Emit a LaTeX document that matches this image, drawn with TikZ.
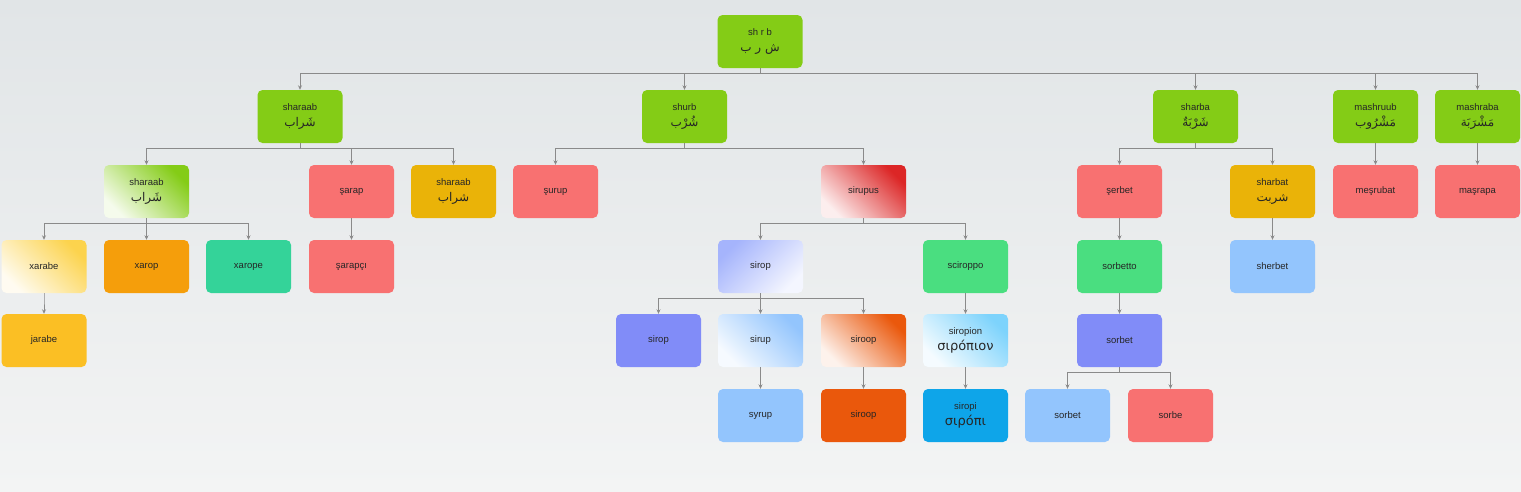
\documentclass[tikz,border=0pt]{standalone}
\usepackage{fontspec}
\setmainfont{Liberation Sans}
\newfontfamily\arabicfont[Script=Arabic]{DejaVu Sans}
\newfontfamily\greekfont{DejaVu Sans}
\TeXXeTstate=1
\usetikzlibrary{arrows.meta}
\definecolor{cLime}{HTML}{84CC16}
\definecolor{cRed}{HTML}{F87171}
\definecolor{cGold}{HTML}{EAB308}
\definecolor{cAmber}{HTML}{F59E0B}
\definecolor{cAmberL}{HTML}{FBBF24}
\definecolor{cEmerald}{HTML}{34D399}
\definecolor{cIndigo}{HTML}{818CF8}
\definecolor{cSky}{HTML}{93C5FD}
\definecolor{cOrange}{HTML}{EA580C}
\definecolor{cGreen}{HTML}{4ADE80}
\definecolor{cBlue}{HTML}{0EA5E9}
\definecolor{gRed}{HTML}{DC2626}
\definecolor{gYellow}{HTML}{FCD34D}
\definecolor{gIndigo}{HTML}{A5B4FC}
\definecolor{gSkyL}{HTML}{7DD3FC}
\definecolor{bgTop}{HTML}{E1E5E7}
\definecolor{bgBot}{HTML}{F3F4F4}
\definecolor{edgeGray}{HTML}{8A8A8A}
\newcommand\arab[1]{{\arabicfont\fontsize{12}{14}\selectfont\beginR#1\endR}}
\newcommand\grk[1]{{\greekfont\fontsize{13}{14}\selectfont#1}}
\tikzset{
  box/.style={rounded corners=5pt, minimum width=85pt, minimum height=53pt,
    inner sep=0pt, align=center, font=\fontsize{9.5}{16}\selectfont, text=black!85},
  gradTR/.style={box, left color=#1!8!white, middle color=#1!70!white, right color=#1, shading angle=135},
  gradTL/.style={box, left color=#1, middle color=#1!70!white, right color=#1!12!white, shading angle=45},
  edge/.style={draw=edgeGray, line width=0.8pt, -{Stealth[length=4.5pt,width=4pt]}}
}
\begin{document}
\begin{tikzpicture}[x=1pt,y=-1pt]
\useasboundingbox (0,0) rectangle (1521,491);
\shade[top color=bgTop, bottom color=bgBot] (0,0) rectangle (1521,491);
% level 0
\node[box, fill=cLime] (root) at (760,41.5) {sh r b\\\arab{ش ر ب}};
% level 1
\node[box, fill=cLime] (sharaab) at (300,116.5) {sharaab\\\arab{شَراب}};
\node[box, fill=cLime] (shurb) at (684.5,116.5) {shurb\\\arab{شُرْب}};
\node[box, fill=cLime] (sharba) at (1195.5,116.5) {sharba\\\arab{شَرْبَةٌ}};
\node[box, fill=cLime] (mashruub) at (1375.5,116.5) {mashruub\\\arab{مَشْرُوب}};
\node[box, fill=cLime] (mashraba) at (1477.5,116.5) {mashraba\\\arab{مَشْرَبَة}};
% level 2
\node[gradTR=cLime] (sharaabB) at (146.5,191.5) {sharaab\\\arab{شَراب}};
\node[box, fill=cRed] (sarap) at (351.5,191.5) {şarap};
\node[box, fill=cGold] (sharaabC) at (453.5,191.5) {sharaab\\\arab{شراب}};
\node[box, fill=cRed] (surup) at (555.5,191.5) {şurup};
\node[gradTR=gRed] (sirupus) at (863.5,191.5) {sirupus};
\node[box, fill=cRed] (serbet) at (1119.5,191.5) {şerbet};
\node[box, fill=cGold] (sharbat) at (1272.5,191.5) {sharbat\\\arab{شربت}};
\node[box, fill=cRed] (mesrubat) at (1375.5,191.5) {meşrubat};
\node[box, fill=cRed] (masrapa) at (1477.5,191.5) {maşrapa};
% level 3
\node[gradTR=gYellow] (xarabe) at (44,266.5) {xarabe};
\node[box, fill=cAmber] (xarop) at (146.5,266.5) {xarop};
\node[box, fill=cEmerald] (xarope) at (248.5,266.5) {xarope};
\node[box, fill=cRed] (sarapci) at (351.5,266.5) {şarapçı};
\node[gradTL=gIndigo] (siropA) at (760.5,266.5) {sirop};
\node[box, fill=cGreen] (sciroppo) at (965.5,266.5) {sciroppo};
\node[box, fill=cGreen] (sorbetto) at (1119.5,266.5) {sorbetto};
\node[box, fill=cSky] (sherbet) at (1272.5,266.5) {sherbet};
% level 4
\node[box, fill=cAmberL] (jarabe) at (44,340.5) {jarabe};
\node[box, fill=cIndigo] (siropB) at (658.5,340.5) {sirop};
\node[gradTR=cSky] (sirup) at (760.5,340.5) {sirup};
\node[gradTR=cOrange] (siroopA) at (863.5,340.5) {siroop};
\node[gradTR=gSkyL] (siropion) at (965.5,340.5) {siropion\\\grk{σιρόπιον}};
\node[box, fill=cIndigo] (sorbetA) at (1119.5,340.5) {sorbet};
% level 5
\node[box, fill=cSky] (syrup) at (760.5,415.5) {syrup};
\node[box, fill=cOrange] (siroopB) at (863.5,415.5) {siroop};
\node[box, fill=cBlue] (siropi) at (965.5,415.5) {siropi\\\grk{σιρόπι}};
\node[box, fill=cSky] (sorbetB) at (1067.5,415.5) {sorbet};
\node[box, fill=cRed] (sorbe) at (1170.5,415.5) {sorbe};
% edges
\foreach \p/\c in {root/sharaab, root/shurb, root/sharba, root/mashruub, root/mashraba,
  sharaab/sharaabB, sharaab/sarap, sharaab/sharaabC,
  shurb/surup, shurb/sirupus,
  sharba/serbet, sharba/sharbat,
  mashruub/mesrubat, mashraba/masrapa,
  sharaabB/xarabe, sharaabB/xarop, sharaabB/xarope,
  sarap/sarapci, sirupus/siropA, sirupus/sciroppo,
  serbet/sorbetto, sharbat/sherbet, xarabe/jarabe,
  siropA/siropB, siropA/sirup, siropA/siroopA,
  sciroppo/siropion, sorbetto/sorbetA,
  sirup/syrup, siroopA/siroopB, siropion/siropi,
  sorbetA/sorbetB, sorbetA/sorbe}
  \draw[edge] (\p.south) -- ++(0,5) -| (\c.north);
\end{tikzpicture}
\end{document}
